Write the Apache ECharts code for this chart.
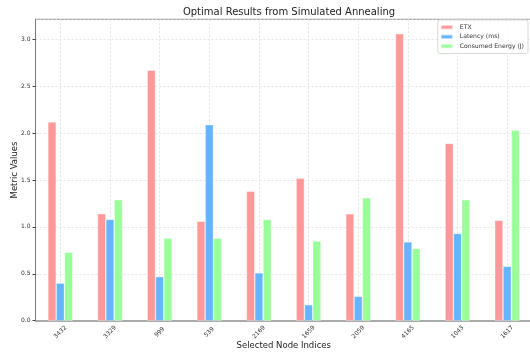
<!DOCTYPE html>
<html><head><meta charset="utf-8">
<script src="https://cdn.jsdelivr.net/npm/echarts@6/dist/echarts.min.js"></script>
<style>html,body{margin:0;padding:0;background:#fff}#c{width:530px;height:356px}</style>
</head><body><div id="c"></div>
<script>
const categories = ['3432','3329','999','539','2169','1659','2059','4165','1043','1617'];
const etx = [2.12, 1.14, 2.67, 1.06, 1.38, 1.52, 1.14, 3.06, 1.89, 1.07];
const latency = [0.40, 1.08, 0.47, 2.09, 0.51, 0.17, 0.26, 0.84, 0.93, 0.58];
const energy = [0.73, 1.29, 0.88, 0.88, 1.08, 0.85, 1.31, 0.77, 1.29, 2.03];
const seriesNames = ['ETX', 'Latency (ms)', 'Consumed Energy (J)'];
const colors = ['#ff9999', '#66b3ff', '#99ff99'];

const font = 'DejaVu Sans';
const chart = echarts.init(document.getElementById('c'), null, {renderer: 'canvas'});
const mk = (name, data, color) => ({
  name, type: 'bar', data, barWidth: 8.3, barGap: '0%',
  itemStyle: {color, borderColor: 'rgba(255,255,255,0.6)', borderWidth: 0.6},
  animation: false
});
chart.setOption({
  animation: false,
  title: {text: 'Optimal Results from Simulated Annealing', left: 284, top: 2, textAlign: 'center',
    textStyle: {fontFamily: font, fontSize: 10, fontWeight: 'normal', color: '#222'}},
  grid: {left: 35.5, right: -2, top: 19.3, bottom: 35.3, show: true, borderColor: '#888', borderWidth: 1,
    containLabel: false, outerBoundsMode: 'none'},
  legend: {
    orient: 'vertical', right: 2, top: 20, padding: [4, 4, 4, 2],
    itemWidth: 12, itemHeight: 4.5, itemGap: 3,
    backgroundColor: 'rgba(255,255,255,0.85)', borderColor: '#d8d8d8', borderWidth: 1, borderRadius: 2,
    textStyle: {fontFamily: font, fontSize: 6.1, color: '#333', padding: [0, 0, 0, 2]},
    data: seriesNames
  },
  xAxis: {
    type: 'category', data: categories,
    name: 'Selected Node Indices', nameLocation: 'middle', nameGap: 20.5, nameMoveOverlap: false,
    nameTextStyle: {fontFamily: font, fontSize: 8.5, color: '#222'},
    axisLine: {lineStyle: {color: '#aaa', width: 2}},
    axisTick: {alignWithLabel: true, length: 3, lineStyle: {color: '#444'}},
    axisLabel: {rotate: 45, align: 'center', verticalAlign: 'middle', fontFamily: font, fontSize: 6, color: '#333', margin: 11.5},
    splitLine: {show: true, alignWithLabel: true, lineStyle: {color: '#ddd', type: [2, 2], width: 0.8}}
  },
  yAxis: {
    type: 'value', min: 0, max: 3.213, interval: 0.5,
    name: 'Metric Values', nameLocation: 'middle', nameGap: 16, nameMoveOverlap: false,
    nameTextStyle: {fontFamily: font, fontSize: 8.5, color: '#222'},
    axisLine: {show: true, lineStyle: {color: '#777'}},
    axisTick: {show: true, length: 3, lineStyle: {color: '#444'}},
    axisLabel: {fontFamily: font, fontSize: 6, color: '#333', margin: 5, showMaxLabel: false,
      formatter: v => v.toFixed(1)},
    splitLine: {show: true, lineStyle: {color: '#ddd', type: [2, 2], width: 0.8}}
  },
  series: [mk(seriesNames[0], etx, colors[0]), mk(seriesNames[1], latency, colors[1]), mk(seriesNames[2], energy, colors[2])]
});
</script></body></html>
